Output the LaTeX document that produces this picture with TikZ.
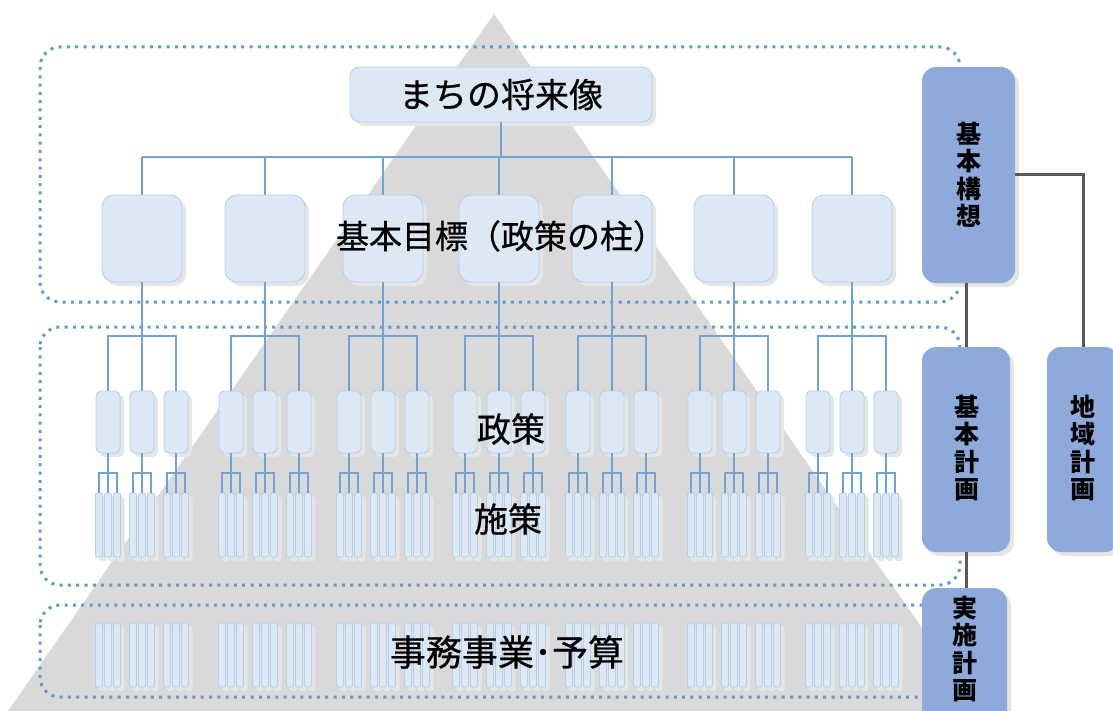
\documentclass[tikz,border=0pt]{standalone}
\usepackage{fontspec}
\newfontfamily\cjk{Noto Sans CJK JP}
\newfontfamily\cjkm{Noto Sans CJK JP}[FakeBold=0.6]
\usetikzlibrary{shadows}
\definecolor{boxfill}{HTML}{DDE8F5}
\definecolor{boxline}{HTML}{B3CFEC}
\definecolor{conn}{HTML}{6FA3D8}
\definecolor{dotc}{HTML}{5B9BD5}
\definecolor{tri}{HTML}{D9D9D9}
\definecolor{plan}{HTML}{8EAADB}
\definecolor{planline}{HTML}{595959}
\tikzset{
  lbox/.style={draw=boxline, fill=boxfill, line width=0.9pt, inner sep=0pt,
    drop shadow={shadow xshift=4pt, shadow yshift=-4pt, fill=black!10, opacity=1}},
  topbox/.style={lbox, rounded corners=10pt, minimum width=302pt, minimum height=55pt},
  goalbox/.style={lbox, rounded corners=12pt, minimum width=80pt, minimum height=87pt},
  polbox/.style={lbox, rounded corners=5pt, minimum width=24pt, minimum height=62pt},
  subbox/.style={lbox, rounded corners=2pt, minimum width=7pt, minimum height=64pt,
    drop shadow={shadow xshift=3pt, shadow yshift=-3pt, fill=black!10, opacity=1}},
  connline/.style={draw=conn, line width=1.4pt},
  dotrect/.style={draw=dotc, line width=3pt, dash pattern=on 3pt off 5.3pt, rounded corners=20pt},
  planbox/.style={fill=plan, draw=none, rounded corners=14pt, inner sep=0pt,
    drop shadow={shadow xshift=4pt, shadow yshift=-4pt, fill=black!10, opacity=1}},
  plantext/.style={font=\cjk\bfseries\fontsize{25}{27.5}\selectfont, align=center, inner sep=0pt},
  planconn/.style={draw=planline, line width=3pt},
  bigtext/.style={font=\cjkm\fontsize{34}{38}\selectfont, inner sep=0pt},
}
\begin{document}
\begin{tikzpicture}[x=1pt,y=-1pt]
\useasboundingbox (0,0) rectangle (1113,711);
% pyramid
\fill[tri] (494,14) -- (980,711) -- (8,711) -- cycle;
% dotted frames
\draw[dotrect] (40,47) rectangle (960,302);
\draw[dotrect] (40,327) rectangle (960,585);
\draw[dotrect] (40,605) rectangle (960,697);
% boxes
\node[topbox] (top) at (501,94.5) {};
\foreach \i/\gx in {1/142,2/265,3/383,4/499,5/612,6/734,7/852}{
  \node[goalbox] (g\i) at (\gx,238.5) {};
  \foreach \j/\dx in {1/-34,2/0,3/34}{
    \node[polbox] (p\i\j) at (\gx+\dx,422) {};
    \foreach \k/\ex in {1/-9,2/0,3/9}{
      \node[subbox] (s\i\j\k) at (\gx+\dx+\ex,525) {};
      \node[subbox] (b\i\j\k) at (\gx+\dx+\ex,655) {};
    }
  }
}
% connectors
\coordinate (hb) at (499,157);
\coordinate (pb) at (499,336);
\coordinate (sb) at (499,473);
\draw[connline] (top.south) -- (top.south |- hb);
\draw[connline] (g1.north |- hb) -- (g7.north |- hb);
\foreach \i in {1,...,7}{
  \draw[connline] (g\i.north |- hb) -- (g\i.north);
  \draw[connline] (g\i.south) -- (p\i2.north);
  \draw[connline] (p\i1.north) -- (p\i1.north |- pb) -- (p\i3.north |- pb) -- (p\i3.north);
  \foreach \j in {1,2,3}{
    \draw[connline] (p\i\j.south) -- (s\i\j2.north);
    \draw[connline] (s\i\j1.north) -- (s\i\j1.north |- sb) -- (s\i\j3.north |- sb) -- (s\i\j3.north);
  }
}
% texts
\node[bigtext] (ttop) at (top.center) {まちの将来像};
\node[bigtext, font=\cjkm\fontsize{33}{38}\selectfont] (tgoal) at (501,236) {基本目標（政策の柱）};
\node[bigtext] (tpol) at (511,429) {政策};
\node[bigtext] (tsub) at (508,519) {施策};
\node[bigtext, font=\cjkm\fontsize{36}{38}\selectfont] (tbud) at (507,652) {事務事業･予算};
% plan boxes
\node[planbox, minimum width=93pt, minimum height=216pt] (kk) at (968.5,175) {};
\node[planbox, minimum width=88pt, minimum height=205pt] (kp) at (966,449.5) {};
\node[planbox, minimum width=72pt, minimum height=205pt] (ck) at (1083,449.5) {};
\node[planbox, minimum width=85pt, minimum height=140pt] (jk) at (964.5,658) {};
\node[plantext] (kkt) at (kk.center) {基\\本\\構\\想};
\node[plantext] (kpt) at (967,448) {基\\本\\計\\画};
\node[plantext] (ckt) at (1083,448) {地\\域\\計\\画};
\node[plantext] (jkt) at (965,649) {実\\施\\計\\画};
\draw[planconn] (kk.east) -- (kk.east -| ck.north) -- (ck.north);
\draw[planconn] (kp.north |- kk.south) -- (kp.north);
\draw[planconn] (kp.south) -- (kp.south |- jk.north);
\end{tikzpicture}
\end{document}
